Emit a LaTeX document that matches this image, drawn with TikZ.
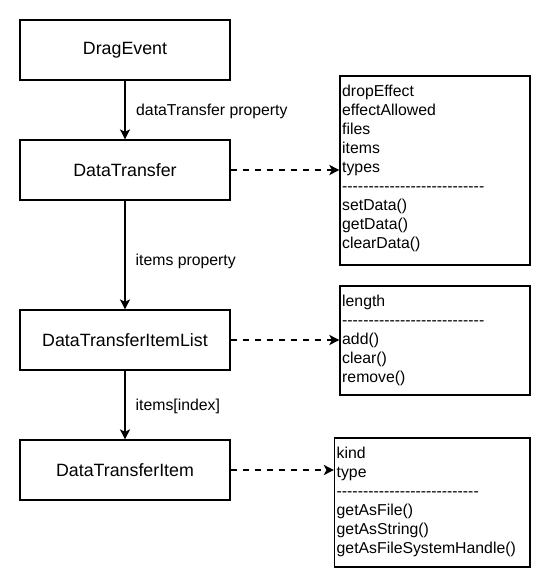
\documentclass[tikz,border=0pt]{standalone}
\usepackage{fontspec}
\setmainfont{Liberation Sans}
\usetikzlibrary{arrows.meta}
\def\hh{-\kern0pt}
\def\hhh{\hh\hh\hh}
\def\dashline{\hhh\hhh\hhh\hhh\hhh\hhh\hhh\hhh\hhh}
\tikzset{
  mainbox/.style={draw=black, line width=1.2pt, minimum width=210pt, minimum height=60pt, inner sep=0pt,
    font=\fontsize{17.8}{21}\selectfont},
  listbox/.style={draw=black, line width=1.2pt, inner sep=0pt},
  listtext/.style={anchor=north west, align=left, inner sep=0pt, font=\fontsize{15.8}{19}\selectfont},
  lbl/.style={anchor=base west, inner sep=0pt, font=\fontsize{15.8}{19}\selectfont},
  solidarrow/.style={line width=2pt, -{Stealth[length=10pt, width=10pt, inset=2.5pt]}},
  dasharrow/.style={line width=2pt, dash pattern=on 6pt off 6pt, -{Stealth[length=10pt, width=10pt, inset=2.5pt]}}
}
\begin{document}
\begin{tikzpicture}[x=1pt, y=-1pt]
\useasboundingbox (0,0) rectangle (551,588);
% main boxes
\node[mainbox] (drag) at (125,50) {DragEvent};
\node[mainbox] (dt) at (125,170) {DataTransfer};
\node[mainbox] (dtil) at (125,340) {DataTransferItemList};
\node[mainbox] (dti) at (125,470) {DataTransferItem};
% list boxes
\node[listbox, minimum width=190pt, minimum height=189pt] (b1) at (435,170.5) {};
\node[listbox, minimum width=190pt, minimum height=109pt] (b2) at (435,340.5) {};
\node[listbox, minimum width=195.5pt, minimum height=129pt] (b3) at (432.25,502.5) {};
% list texts
\node[listtext] (t1) at (342,85.2) {dropEffect\\effectAllowed\\files\\items\\types\\\dashline\\setData()\\getData()\\clearData()};
\node[listtext] (t2) at (342,295) {length\\\dashline\\add()\\clear()\\remove()};
\node[listtext] (t3) at (336.5,447.3) {kind\\type\\\dashline\\getAsFile()\\getAsString()\\getAsFileSystemHandle()};
% solid connectors
\draw[solidarrow] (drag.south) -- (dt.north);
\draw[solidarrow] (dt.south) -- (dtil.north);
\draw[solidarrow] (dtil.south) -- (dti.north);
% labels
\node[lbl] (l1) at (136,116) {dataTransfer property};
\node[lbl] (l2) at (135.5,265.5) {items property};
\node[lbl] (l3) at (135.5,410.6) {items[index]};
% dashed connectors
\draw[dasharrow] (dt.east) -- (dt.east -| b1.west);
\draw[dasharrow] (dtil.east) -- (dtil.east -| b2.west);
\draw[dasharrow] (dti.east) -- (dti.east -| b3.west);
\end{tikzpicture}
\end{document}
